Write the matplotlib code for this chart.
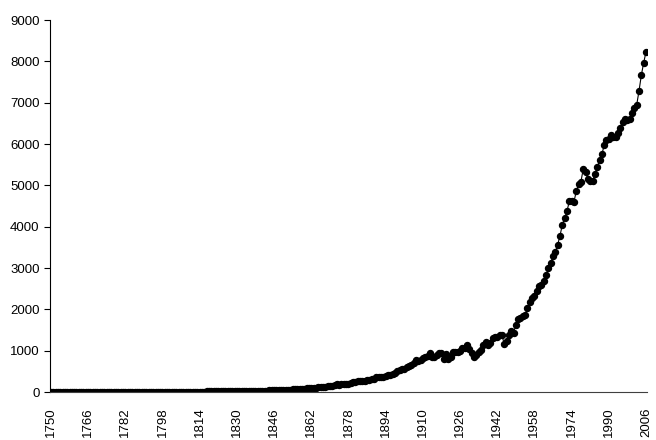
import numpy as np
import matplotlib
matplotlib.use('Agg')
import matplotlib.pyplot as plt

plt.rcParams['font.family'] = ['Liberation Sans', 'DejaVu Sans']

# years and values (one row per decade)
years = list(range(1750, 2007))
values = [
    3, 3, 3, 3, 3, 3, 3, 3, 3, 3,
    3, 3, 3, 3, 3, 3, 3, 3, 3, 3,
    3, 4, 4, 4, 4, 4, 4, 4, 4, 4,
    4, 5, 5, 5, 5, 5, 5, 6, 6, 6,
    6, 6, 7, 7, 7, 7, 7, 7, 8, 8,
    8, 8, 10, 9, 9, 10, 10, 10, 10, 10,
    10, 10, 11, 11, 11, 12, 13, 14, 14, 14,
    14, 15, 16, 16, 17, 17, 19, 20, 21, 21,
    24, 23, 23, 24, 24, 25, 29, 29, 30, 31,
    33, 34, 36, 37, 39, 43, 43, 46, 47, 50,
    54, 54, 57, 59, 69, 71, 76, 77, 78, 82,
    91, 94, 95, 97, 104, 112, 119, 122, 130, 135,
    147, 156, 173, 184, 174, 188, 191, 194, 196, 210,
    236, 243, 256, 272, 275, 277, 281, 295, 327, 327,
    356, 372, 374, 370, 383, 406, 419, 440, 465, 507,
    534, 552, 566, 617, 624, 663, 707, 784, 750, 785,
    819, 836, 879, 943, 850, 838, 901, 955, 936, 806,
    932, 803, 845, 970, 963, 975, 983, 1062, 1065, 1145,
    1053, 940, 847, 893, 973, 1027, 1130, 1209, 1142, 1192,
    1299, 1334, 1342, 1391, 1383, 1160, 1238, 1392, 1469, 1419,
    1630, 1767, 1795, 1841, 1865, 2042, 2177, 2270, 2330, 2454,
    2569, 2580, 2686, 2833, 2995, 3130, 3288, 3393, 3566, 3780,
    4053, 4208, 4376, 4614, 4623, 4596, 4864, 5026, 5087, 5400,
    5315, 5152, 5113, 5094, 5280, 5439, 5607, 5752, 5965, 6097,
    6127, 6217, 6164, 6162, 6266, 6398, 6542, 6600, 6570, 6600,
    6740, 6880, 6950, 7290, 7670, 7970, 8230,
]
tick_years = list(range(1750, 2007, 16))

fig = plt.figure(figsize=(6.56, 4.4), dpi=100)
ax = fig.add_axes([0.0762, 0.109, 0.910, 0.8455])

ax.plot(years, values, color='black', linewidth=0.8, marker='o',
        markersize=4.3, markerfacecolor='black', markeredgecolor='black')

ax.set_xlim(1749.6, 2006.4)
ax.set_ylim(0, 9000)
ax.set_yticks(np.arange(0, 9001, 1000))
ax.set_xticks(tick_years)
ax.set_xticklabels([str(y) for y in tick_years], rotation=90, va='top')
ax.tick_params(axis='y', direction='out', length=4, width=0.8, labelsize=9.5, pad=3.5)
ax.tick_params(axis='x', length=0, labelsize=9.5, pad=11)

for s in ['top', 'right']:
    ax.spines[s].set_visible(False)
ax.spines['left'].set_linewidth(0.8)
ax.spines['bottom'].set_linewidth(0.8)
ax.spines['bottom'].set_color('#404040')

fig.savefig('out.png', dpi=100)
